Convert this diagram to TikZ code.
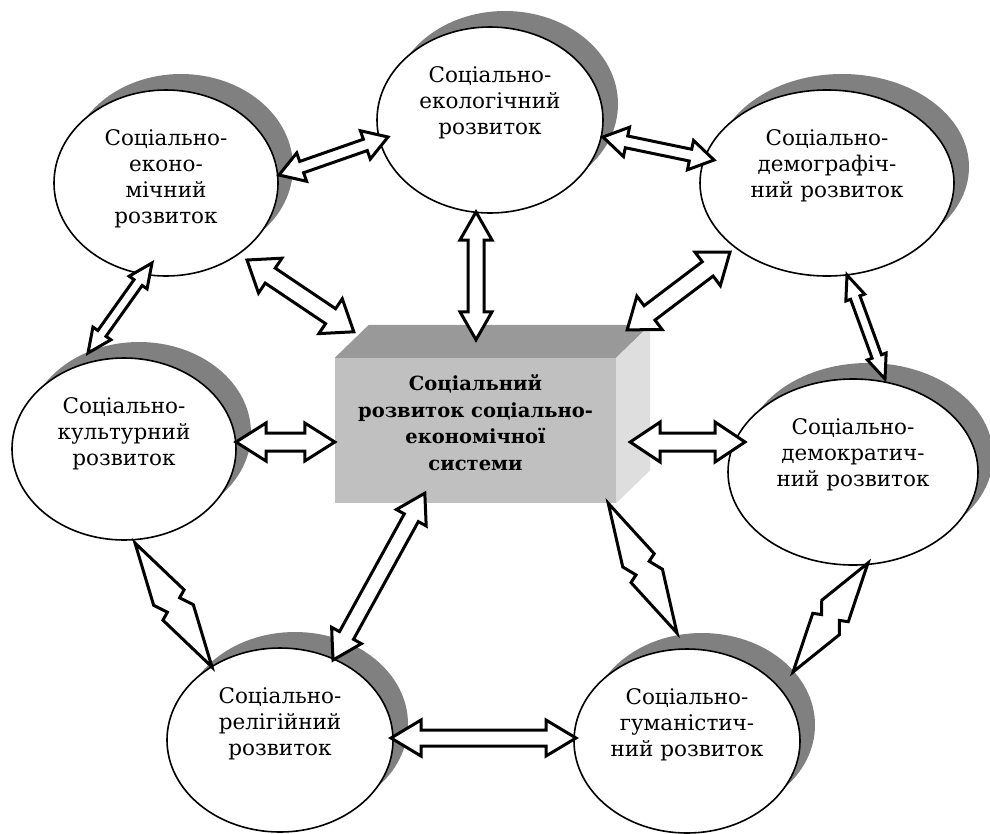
\documentclass[tikz,border=0pt]{standalone}
\usepackage{fontspec}
\setmainfont{DejaVu Serif}
\usetikzlibrary{calc,shapes.geometric}

\definecolor{shadowgray}{RGB}{128,128,128}
\definecolor{facefront}{RGB}{192,192,192}
\definecolor{facetop}{RGB}{153,153,153}
\definecolor{faceside}{RGB}{222,222,222}

\tikzset{
  bubble/.style={ellipse, draw=black, line width=1.6pt, fill=white, inner sep=0pt},
  bubbleshadow/.style={ellipse, fill=shadowgray, inner sep=0pt},
  bubbletext/.style={anchor=north, inner sep=0pt, align=center,
    font=\fontsize{21.5}{26}\selectfont},
  boxtext/.style={align=center, inner sep=0pt,
    font=\fontsize{19.5}{26.5}\selectfont\bfseries},
  arrowbox/.style={draw=black, fill=white, line width=3pt, line join=miter},
}

% direction and length between two named points
\newcommand\baMeasure[2]{%
  \path let \p1=(#1), \p2=(#2) in \pgfextra{%
    \pgfmathsetmacro\baAngTmp{atan2((\y2)-(\y1),(\x2)-(\x1))}%
    \pgfmathsetmacro\baLenTmp{veclen((\x2)-(\x1),(\y2)-(\y1))}%
    \global\let\baAng\baAngTmp \global\let\baLen\baLenTmp};}

% straight double block arrow: ends, shaft half-width, head half-width, head length
\newcommand\blockarrow[5]{%
  \baMeasure{#1}{#2}%
  \begin{scope}[shift={(#1)}, rotate=\baAng]
    \draw[arrowbox] (0pt,0pt) -- (#5pt,#4pt) -- (#5pt,#3pt)
      -- ({\baLen*1pt-#5pt},#3pt) -- ({\baLen*1pt-#5pt},#4pt) -- ({\baLen*1pt},0pt)
      -- ({\baLen*1pt-#5pt},-#4pt) -- ({\baLen*1pt-#5pt},-#3pt)
      -- (#5pt,-#3pt) -- (#5pt,-#4pt) -- cycle;
  \end{scope}}

% lightning-shaped double arrow: ends, outer half-width, inner half-width
\newcommand\boltarrow[4]{%
  \baMeasure{#1}{#2}%
  \begin{scope}[shift={(#1)}, rotate=\baAng]
    \draw[arrowbox] (0pt,0pt) -- ({0.45*\baLen*1pt},#3pt) -- ({0.48*\baLen*1pt},#4pt)
      -- ({0.57*\baLen*1pt},#3pt) -- ({\baLen*1pt},0pt)
      -- ({0.55*\baLen*1pt},-#3pt) -- ({0.52*\baLen*1pt},-#4pt)
      -- ({0.43*\baLen*1pt},-#3pt) -- cycle;
  \end{scope}}

% ellipse with its offset shadow: name, x, y, width, height
\newcommand\bubblenode[5]{%
  \node[bubbleshadow, minimum width=#4pt, minimum height=#5pt] (#1-sh)
    at ([shift={(15,-16)}]#2,#3) {};
  \node[bubble, minimum width=#4pt, minimum height=#5pt] (#1) at (#2,#3) {};}

\begin{document}
\begin{tikzpicture}[x=1pt, y=-1pt]
\useasboundingbox (0,0) rectangle (990,833);

% outer ellipses
\bubblenode{eco}{166}{183}{224}{186}
\bubblenode{ecol}{490}{120}{226}{186}
\bubblenode{demog}{827}{183}{254}{186}
\bubblenode{cult}{124}{449}{224}{182}
\bubblenode{democ}{853}{472}{250}{186}
\bubblenode{relig}{280}{740}{226}{184}
\bubblenode{human}{687}{741}{226}{184}

\node[bubbletext] (eco-t) at ([yshift=-40pt]eco.north) {Соціально-\\еконо-\\мічний\\розвиток};
\node[bubbletext] (ecol-t) at ([yshift=-40pt]ecol.north) {Соціально-\\екологічний\\розвиток};
\node[bubbletext] (demog-t) at ([yshift=-40pt]demog.north) {Соціально-\\демографіч-\\ний розвиток};
\node[bubbletext] (cult-t) at ([yshift=-40pt]cult.north) {Соціально-\\культурний\\розвиток};
\node[bubbletext] (democ-t) at ([yshift=-40pt]democ.north) {Соціально-\\демократич-\\ний розвиток};
\node[bubbletext] (relig-t) at ([yshift=-40pt]relig.north) {Соціально-\\релігійний\\розвиток};
\node[bubbletext] (human-t) at ([yshift=-40pt]human.north) {Соціально-\\гуманістич-\\ний розвиток};

% central block
\node[rectangle, fill=facefront, minimum width=281pt, minimum height=145pt, inner sep=0pt]
  (box) at (475.5,430.5) {};
\fill[facetop] (box.north west) -- ++(34,-33) -- ([shift={(34,-33)}]box.north east)
  -- (box.north east) -- cycle;
\fill[faceside] (box.north east) -- ++(34,-33) -- ([shift={(34,-33)}]box.south east)
  -- (box.south east) -- cycle;
\node[boxtext] (box-t) at ([yshift=8pt]box.center)
  {Соціальний\\розвиток соціально-\\економічної\\системи};

% arrow end points
\coordinate (a1s) at ([shift={(113,-8)}]eco.center);
\coordinate (a1e) at ([shift={(-102,17)}]ecol.center);
\coordinate (a2s) at ([shift={(113,17)}]ecol.center);
\coordinate (a2e) at ([shift={(-113,-23)}]demog.center);
\coordinate (a3s) at ([shift={(-14,92)}]ecol.center);
\coordinate (a3e) at ([shift={(0.5,-18)}]box.north);
\coordinate (a4s) at ([shift={(81,77)}]eco.center);
\coordinate (a4e) at ([shift={(19,-26)}]box.north west);
\coordinate (a5s) at ([shift={(-97,69)}]demog.center);
\coordinate (a5e) at ([shift={(11,-28)}]box.north east);
\coordinate (a6s) at ([shift={(-14,80)}]eco.center);
\coordinate (a6e) at ([shift={(-36,-96)}]cult.center);
\coordinate (a7s) at ([shift={(20,92)}]demog.center);
\coordinate (a7e) at ([shift={(32,-93)}]democ.center);
\coordinate (a8s) at ([shift={(112,-7)}]cult.center);
\coordinate (a8e) at ([shift={(0,11.5)}]box.west);
\coordinate (a9s) at ([shift={(14,11.5)}]box.east);
\coordinate (a9e) at ([shift={(-108,-30)}]democ.center);
\coordinate (a10s) at ([shift={(90,-10)}]box.south west);
\coordinate (a10e) at ([shift={(53,-80)}]relig.center);
\coordinate (a11s) at ([shift={(-8,0)}]box.south east);
\coordinate (a11e) at ([shift={(-10,-108)}]human.center);
\coordinate (a12s) at ([shift={(11,94)}]cult.center);
\coordinate (a12e) at ([shift={(-68,-73)}]relig.center);
\coordinate (a13s) at ([shift={(15,91)}]democ.center);
\coordinate (a13e) at ([shift={(106,-69)}]human.center);
\coordinate (a14s) at ([shift={(111,-2)}]relig.center);
\coordinate (a14e) at ([shift={(-111,-3)}]human.center);

% connectors
\blockarrow{a1s}{a1e}{6}{15}{24}
\blockarrow{a2s}{a2e}{6}{15}{24}
\blockarrow{a3s}{a3e}{8}{16}{28}
\blockarrow{a4s}{a4e}{9}{21}{28}
\blockarrow{a5s}{a5e}{9}{21}{28}
\blockarrow{a6s}{a6e}{5}{11}{24}
\blockarrow{a7s}{a7e}{5}{10}{24}
\blockarrow{a8s}{a8e}{9}{19}{30}
\blockarrow{a9s}{a9e}{9}{20}{30}
\blockarrow{a10s}{a10e}{8}{17}{28}
\boltarrow{a11s}{a11e}{17}{9}
\boltarrow{a12s}{a12e}{17}{9}
\boltarrow{a13s}{a13e}{17}{9}
\blockarrow{a14s}{a14e}{8}{18}{30}
\end{tikzpicture}
\end{document}
